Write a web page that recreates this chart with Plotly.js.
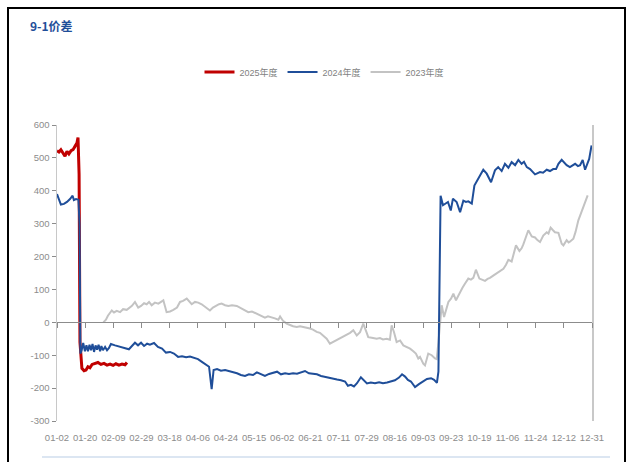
<!DOCTYPE html>
<html>
<head>
<meta charset="utf-8">
<script src="https://cdn.plot.ly/plotly-3.0.1.min.js"></script>
<style>html,body{margin:0;padding:0;background:#fff;}#chart{width:627px;height:462px;}</style>
</head>
<body>
<div id="chart"></div>
<script>
// tick labels (trading-day category axis, index based)
const tickPos = [0,13,26,39,52,65,78,91,104,117,130,143,156,169,182,195,208,221,234,247];
const tickLabels = ["01-02","01-20","02-09","02-29","03-18","04-06","04-24","05-15","06-02","06-21","07-11","07-29","08-16","09-03","09-23","10-19","11-06","11-24","12-12","12-31"];
const yTickVals = [600,500,400,300,200,100,0,-100,-200,-300];
const yTickText = ["600","500","400","300","200","100","0","-100","-200","-300"];

// 2025年度
const x2025 = [0,0.9,1.8,2.8,3.7,4.6,5.5,6.5,7.4,8.3,9.2,9.7,10.2,10.6,11.1,11.5,12.5,13.4,14.3,15.2,16.2,17.5,18.9,20.3,21.7,23.1,24.5,25.9,27.2,28.6,30.0,31.4,32.3];
const y2025 = [522,518,525,512,505,520,512,522,525,535,545,562,450,-60,-125,-140,-147,-145,-135,-138,-128,-125,-122,-128,-125,-130,-127,-131,-126,-130,-127,-129,-122];

// 2024年度
const x2024 = [0,0.9,1.8,3.2,4.6,6.0,7.2,7.8,8.8,9.9,10.4,10.8,11.4,12.1,12.9,13.6,14.3,15.0,15.7,16.4,17.1,17.8,18.5,19.2,19.9,20.5,21.2,22.2,23.1,24.0,24.9,26.8,29.1,31.4,33.2,34.6,36.0,37.4,38.8,40.2,41.6,42.9,44.8,46.6,48.5,50.3,52.2,54.0,55.9,57.7,59.6,61.4,63.3,65.1,66.9,68.8,70.2,71.4,72.3,73.9,75.7,77.6,79.4,81.3,83.1,84.9,86.8,88.6,90.5,92.3,94.2,96.0,97.9,99.7,101.6,103.4,105.3,107.1,109.0,110.8,112.7,114.5,116.3,118.2,120.0,121.9,123.7,125.6,127.4,129.3,131.1,133.0,134.3,135.7,137.1,138.5,140.3,141.7,143.1,144.9,146.8,148.7,150.5,152.4,154.2,156.0,157.9,159.3,160.7,162.0,163.4,165.3,167.1,169.0,170.8,172.7,174.1,175.4,176.1,177.1,178.2,179.6,180.5,181.8,182.8,184.5,186.1,187.6,188.8,189.9,191.5,192.7,194.5,195.8,196.8,198.4,199.5,200.4,202.2,203.7,205.3,206.8,208.4,209.9,211.5,213.0,214.5,215.6,216.9,218.4,220.7,223.0,224.4,226.1,227.6,229.1,230.4,231.5,233.0,234.1,235.3,236.8,239.2,240.5,241.5,242.7,243.8,245.7,246.8];
const y2024 = [390,372,358,360,366,375,385,372,375,373,300,-95,-85,-63,-88,-70,-88,-68,-85,-66,-90,-70,-83,-68,-88,-72,-85,-75,-85,-78,-66,-70,-75,-80,-82,-72,-62,-70,-62,-72,-65,-68,-63,-75,-80,-92,-90,-95,-105,-103,-106,-104,-108,-112,-120,-128,-135,-203,-145,-142,-147,-145,-148,-152,-155,-160,-163,-158,-160,-152,-158,-163,-157,-154,-150,-158,-155,-157,-155,-156,-153,-148,-155,-157,-158,-163,-166,-168,-170,-174,-176,-180,-193,-190,-195,-185,-167,-178,-186,-183,-185,-182,-185,-183,-180,-176,-168,-158,-165,-175,-180,-197,-188,-180,-172,-170,-175,-184,-150,385,356,362,366,340,376,366,335,370,366,368,361,416,437,450,464,452,440,426,462,472,460,482,470,487,478,494,482,488,472,466,450,457,455,464,460,466,466,482,494,485,478,472,482,475,478,494,464,497,538];

// 2023年度
const x2023 = [21.4,22.6,23.5,25.3,26.3,27.6,29.1,30.5,32.2,33.7,34.6,36.0,37.5,38.8,40.2,41.4,42.5,43.7,45.2,46.8,48.0,49.1,50.6,52.2,53.7,55.4,56.8,58.2,59.9,60.9,62.2,63.7,65.2,66.8,68.3,69.7,70.6,72.0,73.7,74.8,76.0,77.6,79.1,80.8,83.0,84.5,86.0,88.3,90.0,92.2,93.7,96.0,97.4,99.1,100.6,102.2,103.0,104.3,106.0,107.6,109.0,110.7,112.2,113.7,115.3,116.8,118.2,119.9,121.4,122.9,124.5,126.0,127.4,129.1,130.7,132.2,133.9,135.3,136.8,138.4,139.9,141.4,143.0,143.7,145.3,147.6,149.1,150.5,152.2,153.7,154.5,155.6,156.8,158.4,159.9,161.5,163.0,164.5,165.7,166.8,167.6,169.1,169.9,171.4,173.0,174.5,175.3,176.1,176.8,177.6,178.7,179.6,180.7,181.9,183.0,184.2,185.1,186.1,187.2,188.4,189.9,191.1,192.2,193.4,195.0,196.2,197.6,198.8,199.9,201.4,203.0,204.5,206.1,207.3,208.4,209.9,211.0,211.9,213.5,214.5,215.3,216.5,217.6,219.2,220.7,221.8,223.0,224.5,226.1,226.9,227.9,229.0,229.9,231.5,233.0,233.8,235.3,236.2,236.8,238.4,239.4,240.7,242.7,244.5,245.0];
const y2023 = [0,8,20,36,30,35,31,40,38,45,50,62,45,50,58,55,62,52,60,57,62,67,31,33,38,45,62,65,72,65,55,62,60,55,48,40,36,45,52,55,57,52,50,52,50,45,39,31,33,26,22,14,18,16,12,8,18,5,-4,-8,-12,-14,-12,-14,-16,-19,-22,-29,-32,-40,-50,-65,-60,-55,-50,-45,-38,-32,-24,-40,-30,-4,-32,-45,-47,-50,-48,-52,-50,-53,-9,-30,-60,-55,-70,-75,-80,-88,-95,-110,-105,-126,-131,-95,-100,-110,-112,-60,6,52,16,35,62,72,87,67,80,92,105,118,133,130,135,160,133,130,126,132,135,142,150,155,163,175,190,185,210,234,217,225,237,260,280,261,258,250,244,264,274,270,288,280,274,272,239,234,250,243,245,254,275,310,346,381,386];

const tickFontFamily = "Liberation Sans, Arial, sans-serif";

const traces = [
  {x: x2025, y: y2025, name: "2025年度", type: "scatter", mode: "lines", line: {color: "#C00000", width: 3}, xaxis: "x2", yaxis: "y"},
  {x: x2024, y: y2024, name: "2024年度", type: "scatter", mode: "lines", line: {color: "#1F4E99", width: 2}, xaxis: "x2", yaxis: "y"},
  {x: x2023, y: y2023, name: "2023年度", type: "scatter", mode: "lines", line: {color: "#C3C3C3", width: 2}, xaxis: "x", yaxis: "y"}
];

const layout = {
  width: 627, height: 462,
  margin: {l: 57, r: 35, t: 125, b: 41, pad: 0},
  paper_bgcolor: "#ffffff", plot_bgcolor: "#ffffff",
  title: {text: "<b>9-1价差</b>", font: {family: "Noto Sans CJK SC, sans-serif", size: 12, color: "#1F4E99"},
          xref: "container", yref: "container", x: 30/627, xanchor: "left", y: 1 - 27/462, yanchor: "middle"},
  showlegend: true,
  legend: {orientation: "h", x: 0.5, xanchor: "center", y: 1.179, yanchor: "middle", traceorder: "normal",
           font: {family: "Liberation Sans, Noto Sans CJK SC, sans-serif", size: 9, color: "#7f7f7f"}, itemwidth: 30, bgcolor: "rgba(0,0,0,0)"},
  xaxis: {range: [0, 247], anchor: "free", position: 1/3, showline: true, linecolor: "#8c8c8c", linewidth: 1,
          ticks: "outside", ticklen: 5, tickcolor: "#8c8c8c", tickvals: tickPos, showticklabels: false,
          showgrid: false, zeroline: false},
  xaxis2: {range: [0, 247], overlaying: "x", anchor: "y", side: "bottom", tickvals: tickPos, ticktext: tickLabels,
           showline: false, ticks: "", showgrid: false, zeroline: false, ticklabelstandoff: 9,
           tickfont: {family: tickFontFamily, size: 9.5, color: "#8c8c8c"}},
  yaxis: {range: [-300, 600], tickvals: yTickVals, ticktext: yTickText, showline: true, mirror: true,
          linecolor: "#c8c8c8", linewidth: 1.5, ticks: "outside", ticklen: 4, tickcolor: "#8c8c8c",
          showgrid: false, zeroline: false, tickfont: {family: tickFontFamily, size: 9.5, color: "#8c8c8c"}},
  shapes: [
    {type: "rect", xref: "paper", yref: "paper", x0: (8-57)/535, x1: (625-57)/535, y0: (421-480)/296, y1: (421-8)/296,
     line: {color: "#000000", width: 2}, fillcolor: "rgba(0,0,0,0)", layer: "below"},
    {type: "line", xref: "paper", yref: "paper", x0: (42-57)/535, x1: (610-57)/535, y0: (421-457)/296, y1: (421-457)/296,
     line: {color: "#dce6f2", width: 2}}
  ]
};

Plotly.newPlot("chart", traces, layout, {displayModeBar: false, staticPlot: true});
</script>
</body>
</html>
